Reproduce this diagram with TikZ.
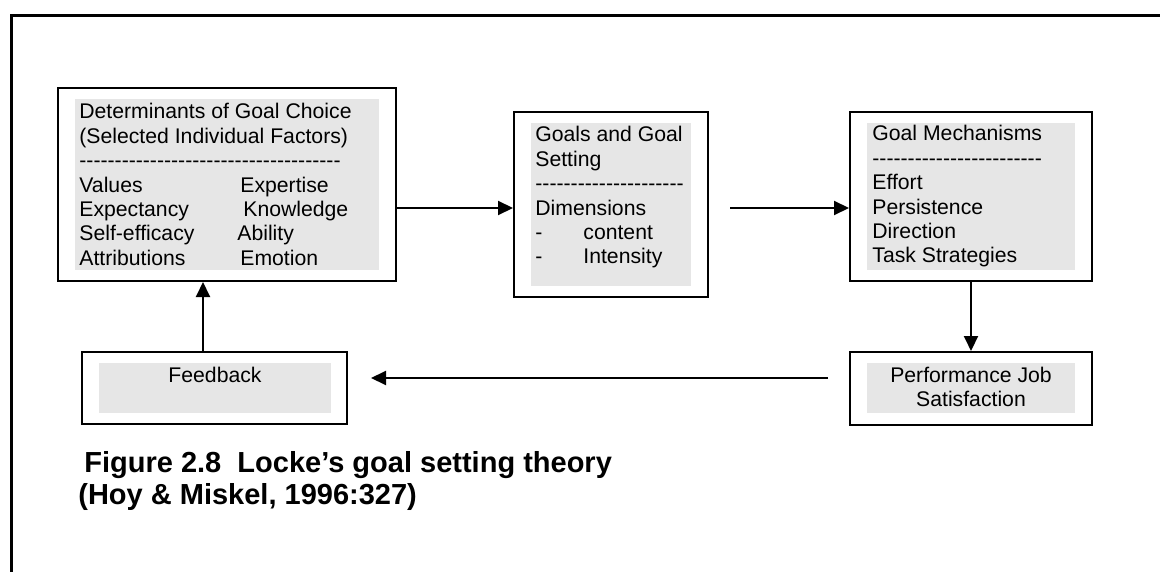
\documentclass[tikz,border=0pt]{standalone}
\usepackage{fontspec}
\setmainfont{Liberation Sans}[Ligatures=TeXOff]
\usetikzlibrary{arrows.meta}
\definecolor{panelgray}{HTML}{E6E6E6}
\newcommand{\mc}[1]{\multicolumn{2}{@{}l@{}}{#1}}
\begin{document}
\begin{tikzpicture}[x=0.5pt,y=-0.5pt,
  frameline/.style={line width=1.5pt},
  outerbox/.style={draw, line width=1pt, inner sep=0pt, rectangle},
  panel/.style={fill=panelgray, inner sep=0pt, rectangle},
  body/.style={inner sep=0pt, font=\fontsize{10.6}{12.2}\selectfont},
  caption/.style={inner sep=0pt, anchor=base west, font=\fontsize{14.5}{17}\selectfont\bfseries},
  arr/.style={line width=1pt, -{Triangle[length=7.5pt,width=7pt]}},
]
\useasboundingbox (0,0) rectangle (1160,572);

% open frame: top and left sides only
\draw[frameline] (1160,16) -- (11,16) -- (11,572);

% boxes
\node[outerbox, minimum width=169pt, minimum height=96.5pt] (b1) at (227,184.5) {};
\node[panel, minimum width=152pt, minimum height=85.5pt] (p1) at (227,184.5) {};
\node[outerbox, minimum width=97pt, minimum height=92.5pt] (b2) at (611,204.5) {};
\node[panel, minimum width=80pt, minimum height=81.5pt] (p2) at (611,204.5) {};
\node[outerbox, minimum width=121pt, minimum height=84.5pt] (b3) at (971,196.5) {};
\node[panel, minimum width=104pt, minimum height=73.5pt] (p3) at (971,196.5) {};
\node[outerbox, minimum width=121pt, minimum height=36.5pt] (b4) at (971,388.5) {};
\node[panel, minimum width=104pt, minimum height=25pt] (p4) at (971,388) {};
\node[outerbox, minimum width=132.5pt, minimum height=36pt] (b5) at (214.5,388) {};
\node[panel, minimum width=116pt, minimum height=25pt] (p5) at (215,388) {};

% box texts
\node[body, anchor=base west] (t1) at (79,119) {%
\begin{tabular}[t]{@{}p{80.5pt}@{}l@{}}
\mc{Determinants of Goal Choice}\\
\mc{(Selected Individual Factors)}\\
\mc{-------------------------------------}\\
Values & Expertise\\
Expectancy & \hspace{1.5pt}Knowledge\\
Self-efficacy & \hspace{-1.5pt}Ability\\
Attributions & Emotion
\end{tabular}};

\node[body, anchor=base west] (t2) at (535,142) {%
\begin{tabular}[t]{@{}p{24pt}@{}l@{}}
\mc{Goals and Goal}\\
\mc{Setting}\\
\mc{---------------------}\\
\mc{Dimensions}\\
- & content\\
- & Intensity
\end{tabular}};

\node[body, anchor=base west] (t3) at (872,141) {%
\begin{tabular}[t]{@{}l@{}}
Goal Mechanisms\\
------------------------\\
Effort\\
Persistence\\
Direction\\
Task Strategies
\end{tabular}};

\node[body, anchor=base] (t4) at (971,382) {%
\begin{tabular}[t]{@{}c@{}}
Performance Job\\
Satisfaction
\end{tabular}};

\node[body, anchor=base] (t5) at (215,382) {Feedback};

% caption
\node[caption] (cap1) at (84,472) {Figure 2.8\ \ Locke’s goal setting theory};
\node[caption] (cap2) at (78,504) {(Hoy \& Miskel, 1996:327)};

% connector rows and free ends
\coordinate (row1) at (0,208);
\coordinate (a2start) at (730,208);
\coordinate (a4start) at (828,378);
\coordinate (a4end) at (371,378);
\coordinate (col1) at (203,0);

% connectors
\draw[arr] (b1.east |- row1) -- (b2.west |- row1);
\draw[arr] (a2start) -- (b3.west |- a2start);
\draw[arr] (b3.south) -- (b4.north);
\draw[arr] (a4start) -- (a4end);
\draw[arr] (b5.north -| col1) -- (b1.south -| col1);
\end{tikzpicture}
\end{document}
